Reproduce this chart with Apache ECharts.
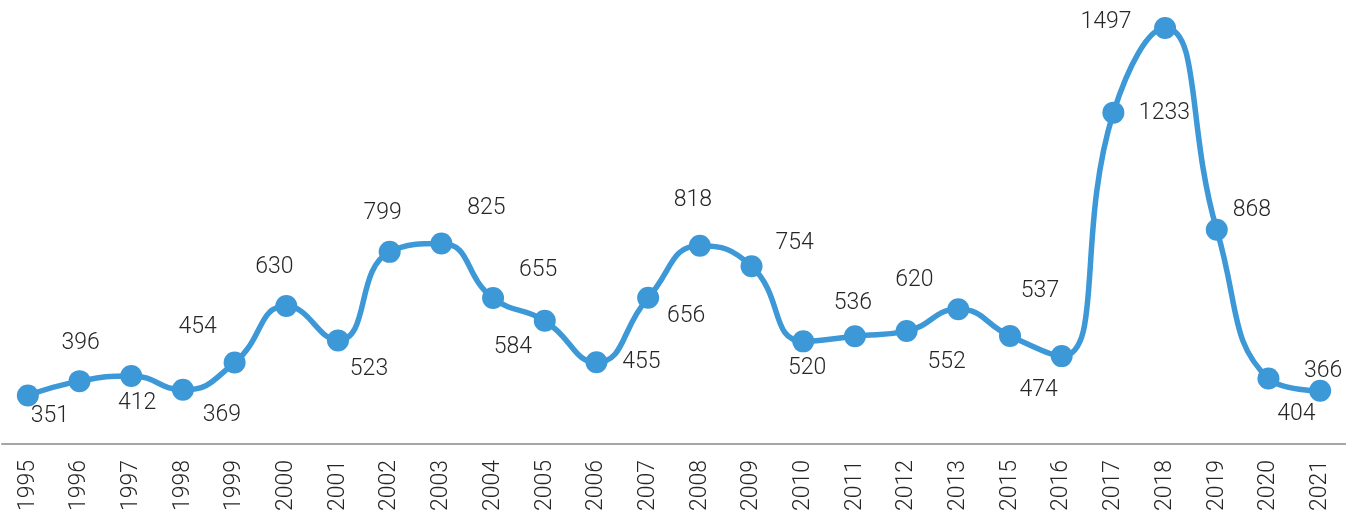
<!DOCTYPE html>
<html>
  <head>
    <meta charset="utf-8" />
    <title>Line chart</title>
    <style>
      html, body { margin: 0; padding: 0; background: #fff; }
      #chart { width: 1346px; height: 511px; }
    </style>
  </head>
  <body>
    <div id="chart"></div>
    <script src="https://cdn.jsdelivr.net/npm/echarts@6/dist/echarts.min.js"></script>
    <script>
      // data
      const years = ["1995", "1996", "1997", "1998", "1999", "2000", "2001", "2002", "2003", "2004",
        "2005", "2006", "2007", "2008", "2009", "2010", "2011", "2012", "2013", "2015",
        "2016", "2017", "2018", "2019", "2020", "2021"];
      const values = [351, 396, 412, 369, 454, 630, 523, 799, 825, 655,
        584, 455, 656, 818, 754, 520, 536, 552, 620, 537,
        474, 1233, 1497, 868, 404, 366];

      // label nudges (px from the marker centre), like the hand-placed labels in the original
      const labelOffsets = [[22, 21], [1, -38], [6, 27], [39, 25], [-37, -35], [-12, -39], [31, 29],
        [-7, -39], [45, -35], [45, -28], [-32, 26], [45, 0], [38, 19], [-7, -46], [43, -23],
        [4, 27], [-2, -33], [40, 31], [-44, -29], [30, -45], [-23, 34], [51, 1], [-59, -6],
        [35, -19], [28, 36], [3, -20]];

      const chart = echarts.init(document.getElementById("chart"));

      const seriesData = values.map((v, i) => ({
        value: v,
        label: { offset: labelOffsets[i] }
      }));

      chart.setOption({
        animation: false,
        grid: { left: 2, right: 0, top: 27, bottom: 67, outerBoundsMode: "none", containLabel: false },
        xAxis: {
          type: "category",
          data: years,
          boundaryGap: true,
          axisLine: { lineStyle: { color: "#a6a6a6", width: 2 } },
          axisTick: { show: false },
          axisLabel: {
            rotate: 90,
            margin: 16,
            fontFamily: "Roboto",
            fontWeight: 300,
            fontSize: 23,
            color: "#262626",
            interval: 0
          }
        },
        yAxis: {
          type: "value",
          min: 200,
          max: 1500,
          show: false,
          splitLine: { show: false }
        },
        series: [
          {
            type: "line",
            data: seriesData,
            smooth: 0.5,
            symbol: "circle",
            symbolSize: 22,
            lineStyle: { color: "#3c98d6", width: 5.5 },
            itemStyle: { color: "#3c98d6" },
            label: {
              show: true,
              position: "inside",
              fontFamily: "Roboto",
              fontWeight: 300,
              fontSize: 23,
              color: "#262626"
            }
          }
        ]
      });

      window.onresize = function () {
        chart.resize();
      };
    </script>
  </body>
</html>
